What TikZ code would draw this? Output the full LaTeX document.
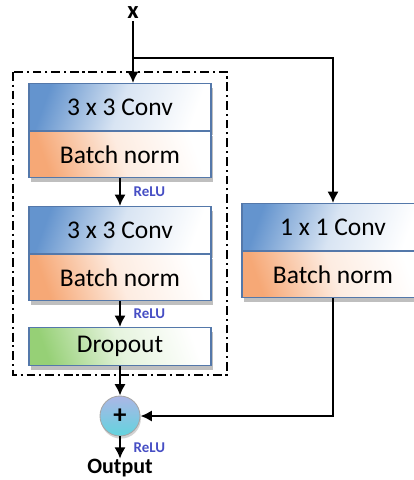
\documentclass[tikz,border=0pt]{standalone}
\usepackage{fontspec}
\setmainfont{Carlito}
\usetikzlibrary{positioning, arrows.meta, shadows}

\definecolor{convblue}{RGB}{100,148,206}
\definecolor{normorange}{RGB}{246,168,118}
\definecolor{dropgreen}{RGB}{150,208,118}
\definecolor{boxline}{RGB}{84,120,170}
\definecolor{relublue}{RGB}{70,78,196}

\begin{document}
\begin{tikzpicture}[x=0.02cm, y=-0.02cm,
  layer/.style={draw=boxline, line width=0.6pt, minimum width=3.64cm, inner sep=0pt,
    anchor=north, font=\fontsize{14.5}{16}\selectfont,
    drop shadow={shadow xshift=1pt, shadow yshift=-2.5pt, opacity=0.5}},
  convbox/.style={layer, minimum height=0.94cm, left color=convblue, right color=white, middle color=convblue!25, shading angle=70},
  normbox/.style={layer, minimum height=0.92cm, left color=normorange, right color=white, middle color=normorange!22, shading angle=110},
  dropbox/.style={layer, minimum height=0.76cm, left color=dropgreen, right color=white, middle color=dropgreen!25, shading angle=110},
  relu/.style={font=\bfseries\fontsize{8.5}{9}\selectfont, text=relublue, inner sep=0pt},
  flow/.style={line width=1.4pt, -{Latex[length=6.5pt, width=6.5pt]}}]

\useasboundingbox (0,0) rectangle (413,480);

% residual block
\draw [line width=1.1pt, dash pattern=on 5pt off 2.2pt on 1.2pt off 2.2pt] (13,72) rectangle (227,375);

\node [convbox] (conv1) at (120,83) {3 x 3 Conv};
\node [normbox] (norm1) at (conv1.south) {Batch norm};
\node [convbox] (conv2) at (120,206) {3 x 3 Conv};
\node [normbox] (norm2) at (conv2.south) {Batch norm};
\node [dropbox] (drop) at (120,327) {Dropout};

% shortcut
\node [convbox] (conv3) at (333,203) {1 x 1 Conv};
\node [normbox] (norm3) at (conv3.south) {Batch norm};

\node [font=\bfseries\fontsize{14}{16}\selectfont, inner sep=1pt] (x) at (133,13) {x};
\node [circle, draw=gray!70, line width=0.5pt, minimum size=0.8cm, inner sep=0pt,
  top color={rgb,255:red,172;green,182;blue,230}, bottom color={rgb,255:red,98;green,212;blue,222},
  drop shadow={shadow xshift=0.5pt, shadow yshift=-1.5pt, opacity=0.35},
  font=\bfseries\fontsize{15}{16}\selectfont] (plus) at (120,416) {+};
\node [font=\bfseries\fontsize{12.5}{14}\selectfont, inner sep=0pt] (out) at (120,468) {Output};

\coordinate (split) at (133,58);

\draw [flow] (x.south) -- (x.south |- conv1.north);
\draw [flow] (split) -| (conv3.north);
\draw [flow] (norm1.south) -- (conv2.north) node[relu, midway, right=0.25cm] {ReLU};
\draw [flow] (norm2.south) -- (drop.north) node[relu, midway, right=0.25cm] {ReLU};
\draw [flow] (drop.south) -- (plus.north);
\draw [flow] (norm3.south) |- (plus.east);
\draw [flow] (plus.south) -- (out.north) node[relu, midway, right=0.25cm] {ReLU};

\end{tikzpicture}
\end{document}
